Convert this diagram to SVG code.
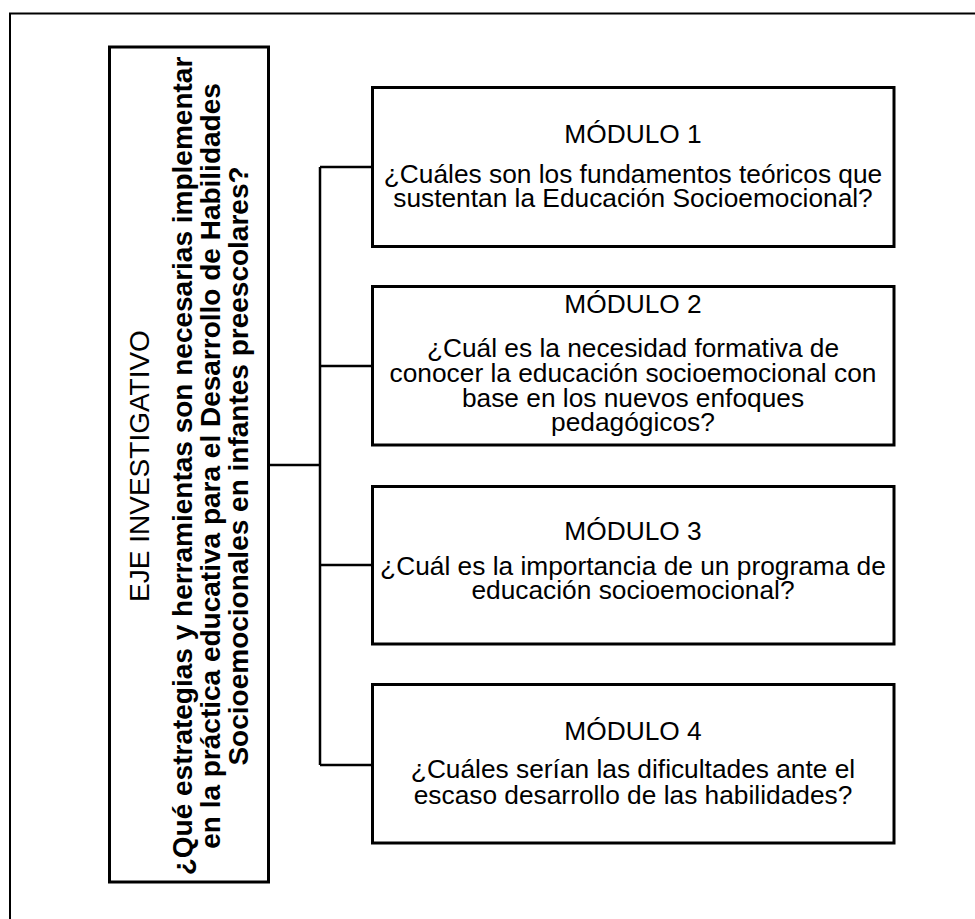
<svg xmlns="http://www.w3.org/2000/svg" width="975" height="919" viewBox="0 0 975 919">
<style>
.box{fill:#fff;stroke:#000;stroke-width:3}
.frame{fill:none;stroke:#000;stroke-width:2}
.conn{fill:none;stroke:#000;stroke-width:2.5}
.t{font-family:"Liberation Sans",Arial,sans-serif;font-size:26.3px;fill:#000;text-anchor:middle}
.v{font-family:"Liberation Sans",Arial,sans-serif;font-size:28px;fill:#000;text-anchor:middle}
.b{font-weight:bold}
</style>
<rect width="975" height="919" fill="#fff"/>
<path class="frame" d="M10,919 V13.5 H975"/>
<g id="connectors">
<path class="conn" d="M268.5,465 H320 M320,167 V765 M320,167 H372.5 M320,366 H372.5 M320,565 H372.5 M320,765 H372.5"/>
</g>
<g id="eje">
<rect class="box" x="109.5" y="47" width="159" height="835"/>
<g transform="translate(0,466) rotate(-90)">
<text class="v" x="0" y="148.5">EJE INVESTIGATIVO</text>
<text class="v b" x="0" y="191.5">¿Qué estrategias y herramientas son necesarias implementar</text>
<text class="v b" x="0" y="219.5">en la práctica educativa para el Desarrollo de Habilidades</text>
<text class="v b" x="0" y="247.5">Socioemocionales en infantes preescolares?</text>
</g>
</g>
<g id="modulo1">
<rect class="box" x="372.5" y="87.5" width="521.5" height="159"/>
<text class="t" x="633" y="142.7">MÓDULO 1</text>
<text class="t" x="633" y="183.3">¿Cuáles son los fundamentos teóricos que</text>
<text class="t" x="633" y="207">sustentan la Educación Socioemocional?</text>
</g>
<g id="modulo2">
<rect class="box" x="372.5" y="286.5" width="521.5" height="158.5"/>
<text class="t" x="633" y="313.3">MÓDULO 2</text>
<text class="t" x="633" y="357.3">¿Cuál es la necesidad formativa de</text>
<text class="t" x="633" y="381.7">conocer la educación socioemocional con</text>
<text class="t" x="633" y="406.5">base en los nuevos enfoques</text>
<text class="t" x="633" y="431">pedagógicos?</text>
</g>
<g id="modulo3">
<rect class="box" x="372.5" y="486.5" width="521.5" height="157.5"/>
<text class="t" x="633" y="540">MÓDULO 3</text>
<text class="t" x="633" y="575">¿Cuál es la importancia de un programa de</text>
<text class="t" x="633" y="599">educación socioemocional?</text>
</g>
<g id="modulo4">
<rect class="box" x="372.5" y="684.5" width="521.5" height="158.5"/>
<text class="t" x="633" y="740">MÓDULO 4</text>
<text class="t" x="633" y="778">¿Cuáles serían las dificultades ante el</text>
<text class="t" x="633" y="804">escaso desarrollo de las habilidades?</text>
</g>
</svg>
